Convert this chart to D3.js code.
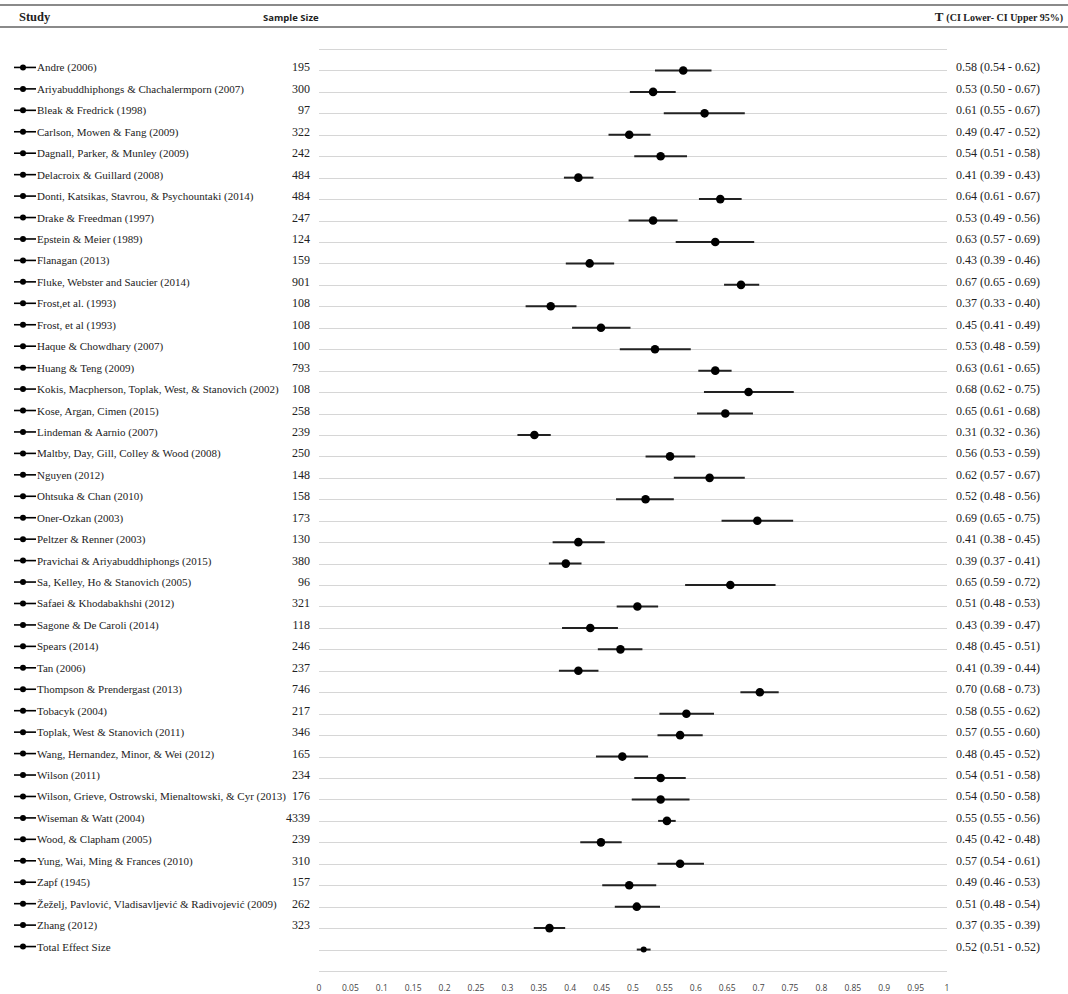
<!DOCTYPE html>
<html>
  <head>
    <meta charset="UTF-8">
    <title>Forest plot</title>
    <script src="https://cdn.jsdelivr.net/npm/d3@7"></script>
  </head>
  <style>
    html, body {
      margin: 0;
      background-color: white;
    }
    svg text.study, svg text.ci, svg text.sample {
      font-family: "Liberation Serif", "Times New Roman", serif;
      font-size: 12px;
      fill: #222;
    }
    svg text.study {
      font-size: 11px;
    }
    svg text.tick-label {
      font-family: "Open Sans", "Liberation Sans", sans-serif;
      font-size: 8.5px;
      fill: #444;
    }
  </style>
  <body>
    <div class="display"></div>
    <script>
const studies = [
  'Andre (2006)', 'Ariyabuddhiphongs & Chachalermporn (2007)', 'Bleak & Fredrick (1998)',
  'Carlson, Mowen & Fang (2009)', 'Dagnall, Parker, & Munley (2009)', 'Delacroix & Guillard (2008)',
  'Donti, Katsikas, Stavrou, & Psychountaki (2014)', 'Drake & Freedman (1997)', 'Epstein & Meier (1989)',
  'Flanagan (2013)', 'Fluke, Webster and Saucier (2014)', 'Frost,et al. (1993)', 'Frost, et al (1993)',
  'Haque & Chowdhary (2007)', 'Huang & Teng (2009)', 'Kokis, Macpherson, Toplak, West, & Stanovich (2002)',
  'Kose, Argan, Cimen (2015)', 'Lindeman & Aarnio (2007)', 'Maltby, Day, Gill, Colley & Wood (2008)',
  'Nguyen (2012)', 'Ohtsuka & Chan (2010)', 'Oner-Ozkan (2003)', 'Peltzer & Renner (2003)',
  'Pravichai & Ariyabuddhiphongs (2015)', 'Sa, Kelley, Ho & Stanovich (2005)', 'Safaei & Khodabakhshi (2012)',
  'Sagone & De Caroli (2014)', 'Spears (2014)', 'Tan (2006)', 'Thompson & Prendergast (2013)',
  'Tobacyk (2004)', 'Toplak, West & Stanovich (2011)', 'Wang, Hernandez, Minor, & Wei (2012)',
  'Wilson (2011)', 'Wilson, Grieve, Ostrowski, Mienaltowski, & Cyr (2013)', 'Wiseman & Watt (2004)',
  'Wood, & Clapham (2005)', 'Yung, Wai, Ming & Frances (2010)', 'Zapf (1945)',
  'Žeželj, Pavlović, Vladisavljević & Radivojević (2009)', 'Zhang (2012)', 'Total Effect Size'
];

const sampleSizes = [
  '195', '300', '97', '322', '242', '484', '484', '247', '124', '159', '901', '108', '108', '100',
  '793', '108', '258', '239', '250', '148', '158', '173', '130', '380', '96', '321', '118', '246',
  '237', '746', '217', '346', '165', '234', '176', '4339', '239', '310', '157', '262', '323', ''
];

// point estimates and CI ends as drawn
const effects = [
  0.580, 0.532, 0.614, 0.494, 0.544, 0.413, 0.639, 0.532, 0.631, 0.431, 0.672, 0.369, 0.449, 0.535,
  0.631, 0.684, 0.647, 0.343, 0.559, 0.622, 0.520, 0.698, 0.413, 0.393, 0.655, 0.507, 0.432, 0.480,
  0.413, 0.702, 0.585, 0.575, 0.483, 0.544, 0.544, 0.554, 0.449, 0.575, 0.494, 0.506, 0.367, 0.517
];
const ciLower = [
  0.535, 0.495, 0.549, 0.461, 0.502, 0.390, 0.605, 0.493, 0.568, 0.393, 0.645, 0.329, 0.403, 0.479,
  0.604, 0.613, 0.602, 0.316, 0.520, 0.565, 0.473, 0.641, 0.372, 0.366, 0.583, 0.474, 0.387, 0.444,
  0.382, 0.671, 0.542, 0.539, 0.441, 0.502, 0.498, 0.540, 0.416, 0.539, 0.451, 0.471, 0.342, 0.506
];
const ciUpper = [
  0.625, 0.568, 0.678, 0.528, 0.586, 0.437, 0.673, 0.571, 0.693, 0.470, 0.701, 0.410, 0.496, 0.592,
  0.657, 0.756, 0.691, 0.369, 0.599, 0.678, 0.565, 0.755, 0.455, 0.418, 0.727, 0.540, 0.476, 0.515,
  0.445, 0.732, 0.629, 0.611, 0.524, 0.584, 0.590, 0.568, 0.482, 0.613, 0.537, 0.543, 0.392, 0.528
];

const ciLabels = [
  '0.58 (0.54 - 0.62)', '0.53 (0.50 - 0.67)', '0.61 (0.55 - 0.67)', '0.49 (0.47 - 0.52)',
  '0.54 (0.51 - 0.58)', '0.41 (0.39 - 0.43)', '0.64 (0.61 - 0.67)', '0.53 (0.49 - 0.56)',
  '0.63 (0.57 - 0.69)', '0.43 (0.39 - 0.46)', '0.67 (0.65 - 0.69)', '0.37 (0.33 - 0.40)',
  '0.45 (0.41 - 0.49)', '0.53 (0.48 - 0.59)', '0.63 (0.61 - 0.65)', '0.68 (0.62 - 0.75)',
  '0.65 (0.61 - 0.68)', '0.31 (0.32 - 0.36)', '0.56 (0.53 - 0.59)', '0.62 (0.57 - 0.67)',
  '0.52 (0.48 - 0.56)', '0.69 (0.65 - 0.75)', '0.41 (0.38 - 0.45)', '0.39 (0.37 - 0.41)',
  '0.65 (0.59 - 0.72)', '0.51 (0.48 - 0.53)', '0.43 (0.39 - 0.47)', '0.48 (0.45 - 0.51)',
  '0.41 (0.39 - 0.44)', '0.70 (0.68 - 0.73)', '0.58 (0.55 - 0.62)', '0.57 (0.55 - 0.60)',
  '0.48 (0.45 - 0.52)', '0.54 (0.51 - 0.58)', '0.54 (0.50 - 0.58)', '0.55 (0.55 - 0.56)',
  '0.45 (0.42 - 0.48)', '0.57 (0.54 - 0.61)', '0.49 (0.46 - 0.53)', '0.51 (0.48 - 0.54)',
  '0.37 (0.35 - 0.39)', '0.52 (0.51 - 0.52)'
];

const tickValues = [0, 0.05, 0.1, 0.15, 0.2, 0.25, 0.3, 0.35, 0.4, 0.45, 0.5, 0.55, 0.6, 0.65, 0.7, 0.75, 0.8, 0.85, 0.9, 0.95, 1];

const width = 1068, height = 994;
const rows = studies.map((s, i) => ({
  study: s, n: sampleSizes[i], t: effects[i], lo: ciLower[i], hi: ciUpper[i], label: ciLabels[i], i: i,
  total: i === studies.length - 1
}));

const svg = d3.select('.display')
  .append('svg')
  .attr('width', width)
  .attr('height', height);

const x = d3.scaleLinear().domain([0, 1]).range([319, 947]);
// one empty slot above and below the rows
const y = d3.scaleLinear().domain([-1, rows.length]).range([49, 971]);

// header rules
svg.append('line').attr('x1', 0).attr('x2', width).attr('y1', 5).attr('y2', 5)
  .attr('stroke', '#8a8a8a').attr('stroke-width', 2);
svg.append('line').attr('x1', 0).attr('x2', width).attr('y1', 27).attr('y2', 27)
  .attr('stroke', '#8a8a8a').attr('stroke-width', 2);

svg.append('text').attr('x', 19).attr('y', 21)
  .attr('font-family', '"Liberation Serif", serif').attr('font-weight', 'bold').attr('font-size', 12.5)
  .attr('fill', '#222').text('Study');
svg.append('text').attr('x', 263).attr('y', 21)
  .attr('font-family', '"Open Sans", sans-serif').attr('font-weight', 'bold').attr('font-size', 9.5)
  .attr('fill', '#222').text('Sample Size');
const tHead = svg.append('text').attr('x', 1063).attr('y', 21).attr('text-anchor', 'end')
  .attr('font-family', '"Liberation Serif", serif').attr('font-weight', 'bold').attr('fill', '#222');
tHead.append('tspan').attr('font-size', 13).text('T ');
tHead.append('tspan').attr('font-size', 10).text('(CI Lower- CI Upper  95%)');

// gridlines
const grid = d3.range(-1, rows.length + 1);
svg.append('g').selectAll('line')
  .data(grid)
  .enter()
  .append('line')
  .attr('x1', x(0)).attr('x2', x(1))
  .attr('y1', d => Math.round(y(d)) + 0.5).attr('y2', d => Math.round(y(d)) + 0.5)
  .attr('stroke', '#d6d6d6').attr('stroke-width', 1.2);

// left column
const left = svg.append('g');
const rowG = left.selectAll('.row').data(rows).enter().append('g')
  .attr('class', 'row')
  .attr('transform', d => `translate(0, ${y(d.i)})`);

rowG.append('line').attr('x1', 14).attr('x2', 36).attr('y1', -3).attr('y2', -3)
  .attr('stroke', '#000').attr('stroke-width', 1.6);
rowG.append('circle').attr('cx', 23).attr('cy', -3).attr('r', 3).attr('fill', '#000');
rowG.append('text').attr('class', 'study').attr('x', 37).attr('y', 1).text(d => d.study);
rowG.append('text').attr('class', 'sample').attr('x', 310).attr('y', 1).attr('text-anchor', 'end').text(d => d.n);
rowG.append('text').attr('class', 'ci').attr('x', 956).attr('y', 1).text(d => d.label);

// intervals and estimates
const marks = svg.append('g');
marks.selectAll('.ci-line').data(rows).enter().append('line')
  .attr('class', 'ci-line')
  .attr('x1', d => x(d.lo)).attr('x2', d => x(d.hi))
  .attr('y1', d => y(d.i)).attr('y2', d => y(d.i))
  .attr('stroke', '#222').attr('stroke-width', 2);
marks.selectAll('.marker').data(rows).enter().append('circle')
  .attr('class', 'marker')
  .attr('cx', d => x(d.t)).attr('cy', d => y(d.i))
  .attr('r', d => d.total ? 3 : 4.3)
  .attr('fill', '#000');

// axis labels
svg.append('g').selectAll('text').data(tickValues).enter().append('text')
  .attr('class', 'tick-label')
  .attr('x', d => x(d)).attr('y', 991)
  .attr('text-anchor', 'middle')
  .text(d => d3.format('')(d));
    </script>
  </body>
</html>
